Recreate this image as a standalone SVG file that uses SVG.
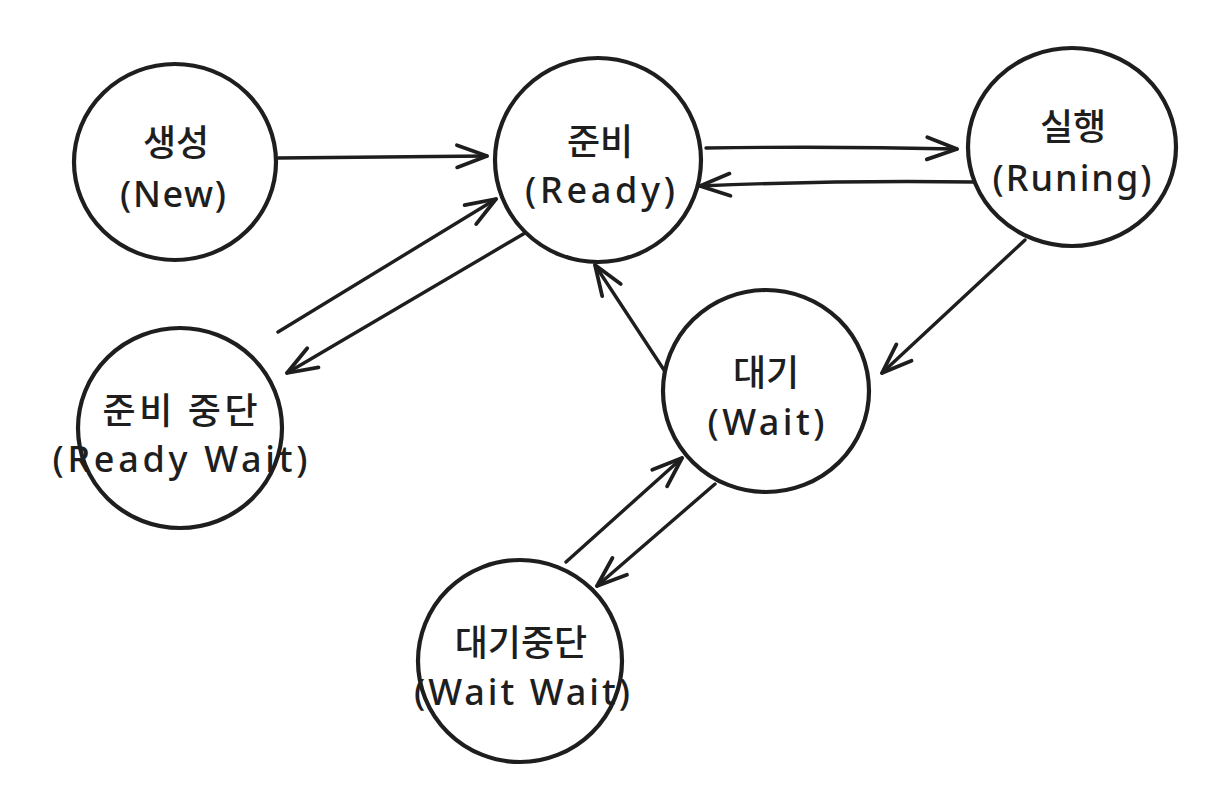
<svg xmlns="http://www.w3.org/2000/svg" width="1230" height="796" viewBox="0 0 1230 796">
  <style>
    .state { fill: #ffffff; stroke: #1e1e1e; stroke-width: 4.2; }
    .ko { font-family: "Noto Sans CJK KR", "Noto Sans", sans-serif; font-size: 36px; font-weight: 500; fill: #1e1e1e; text-anchor: middle; }
    .en { font-family: "Noto Sans", "Liberation Sans", sans-serif; font-size: 36px; font-weight: 500; fill: #1e1e1e; text-anchor: middle; }
    .edge { fill: none; stroke: #1e1e1e; stroke-width: 3.4; stroke-linecap: round; marker-end: url(#chev); }
  </style>
  <defs>
    <marker id="chev" markerUnits="userSpaceOnUse" markerWidth="40" markerHeight="40" refX="0" refY="0" viewBox="-32 -16 36 32" orient="auto" overflow="visible">
      <path d="M-27,-10 L0,0 L-27,10" fill="none" stroke="#1e1e1e" stroke-width="3.4" stroke-linecap="round" stroke-linejoin="round"/>
    </marker>
  </defs>

  <rect width="1230" height="796" fill="#ffffff"/>

  <!-- transitions -->
  <g id="connectors">
    <path class="edge" d="M278,158 L487,156"/>
    <path class="edge" d="M706,148 Q830,146 957,149"/>
    <path class="edge" d="M975,182 Q840,180 700,186"/>
    <path class="edge" d="M278,332 L496,199"/>
    <path class="edge" d="M525,233 L287,373"/>
    <path class="edge" d="M1025,240 L882,373"/>
    <path class="edge" d="M664,370 L595,265"/>
    <path class="edge" d="M566,562 L682,458"/>
    <path class="edge" d="M715,484 L597,586"/>
  </g>

  <!-- process states -->
  <g id="state-new">
    <ellipse class="state" cx="175" cy="162" rx="101" ry="98"/>
    <text class="ko" x="176" y="156">생성</text>
    <text class="en" x="173" y="207" textLength="106">(New)</text>
  </g>

  <g id="state-ready">
    <ellipse class="state" cx="598" cy="160" rx="103" ry="102"/>
    <text class="ko" x="600" y="155">준비</text>
    <text class="en" x="600" y="203" textLength="150">(Ready)</text>
  </g>

  <g id="state-running">
    <ellipse class="state" cx="1072" cy="147" rx="104" ry="99"/>
    <text class="ko" x="1073" y="140">실행</text>
    <text class="en" x="1072" y="191" textLength="159">(Runing)</text>
  </g>

  <g id="state-ready-wait">
    <ellipse class="state" cx="180" cy="428" rx="102" ry="100"/>
    <text class="ko" x="180" y="424" textLength="155">준비 중단</text>
    <text class="en" x="180" y="472" textLength="255">(Ready Wait)</text>
  </g>

  <g id="state-wait">
    <ellipse class="state" cx="766" cy="391" rx="103" ry="101"/>
    <text class="ko" x="766" y="386">대기</text>
    <text class="en" x="766" y="435" textLength="117">(Wait)</text>
  </g>

  <g id="state-wait-wait">
    <ellipse class="state" cx="520" cy="661" rx="102" ry="101"/>
    <text class="ko" x="521" y="656">대기중단</text>
    <text class="en" x="522" y="705" textLength="216">(Wait Wait)</text>
  </g>
</svg>
